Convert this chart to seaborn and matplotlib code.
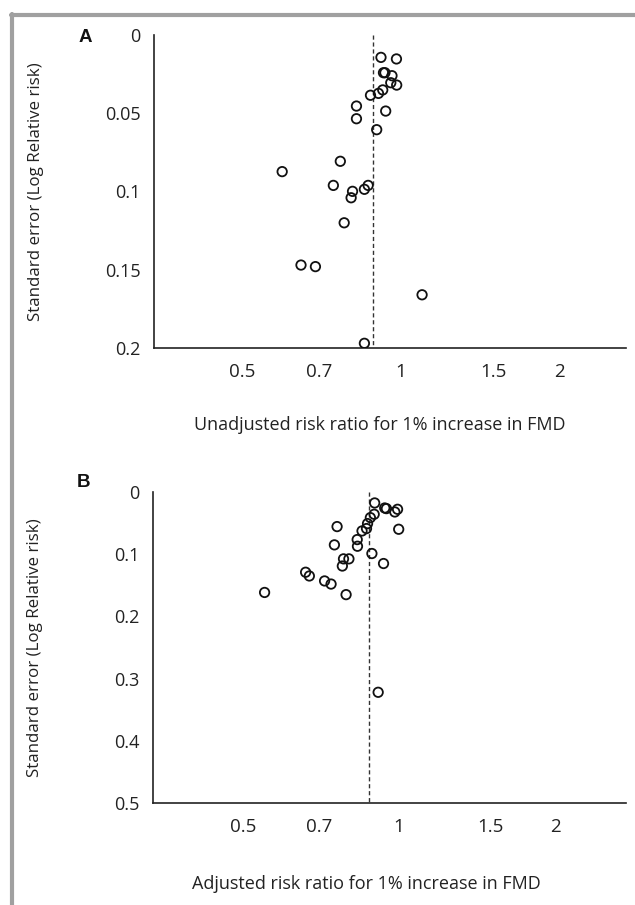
import matplotlib
matplotlib.use("Agg")
import matplotlib.pyplot as plt
from matplotlib.lines import Line2D
import seaborn as sns
import pandas as pd

# ---- data ----
rr_unadjusted = [0.916, 0.980, 0.926, 0.932, 0.961, 0.956, 0.981, 0.923, 0.906, 0.875,
                 0.823, 0.935, 0.823, 0.899, 0.767, 0.595, 0.744, 0.866, 0.852, 0.809,
                 0.804, 0.780, 0.646, 0.688, 1.096, 0.852]
se_unadjusted = [0.0143, 0.0153, 0.0241, 0.0241, 0.0260, 0.0305, 0.0320, 0.0351, 0.0373, 0.0385,
                 0.0454, 0.0486, 0.0535, 0.0605, 0.0807, 0.0873, 0.0961, 0.0961, 0.0986, 0.0999,
                 0.1040, 0.1200, 0.1470, 0.1480, 0.1660, 0.1970]
rr_adjusted = [0.897, 0.938, 0.945, 0.993, 0.981, 0.895, 0.880, 0.869, 0.865, 0.848,
               0.998, 0.759, 0.830, 0.831, 0.750, 0.886, 0.781, 0.800, 0.777, 0.933,
               0.660, 0.671, 0.718, 0.739, 0.790, 0.550, 0.911]
se_adjusted = [0.0176, 0.0257, 0.0267, 0.0278, 0.0321, 0.0358, 0.0412, 0.0508, 0.0588, 0.0626,
               0.0599, 0.0556, 0.0765, 0.0872, 0.0850, 0.0989, 0.1075, 0.1075, 0.1190, 0.1150,
               0.1290, 0.1350, 0.1430, 0.1480, 0.1650, 0.1615, 0.3220]
pooled_unadjusted = 0.885
pooled_adjusted = 0.875

x_ticks = [0.5, 0.7, 1, 1.5, 2]
x_ticklabels = ["0.5", "0.7", "1", "1.5", "2"]
yA_ticks = [0, 0.05, 0.1, 0.15, 0.2]
yA_ticklabels = ["0", "0.05", "0.1", "0.15", "0.2"]
yB_ticks = [0, 0.1, 0.2, 0.3, 0.4, 0.5]
yB_ticklabels = ["0", "0.1", "0.2", "0.3", "0.4", "0.5"]

xlabel_A = "Unadjusted risk ratio for 1% increase in FMD"
xlabel_B = "Adjusted risk ratio for 1% increase in FMD"
ylabel = "Standard error (Log Relative risk)"

sns.set_style("white")
plt.rcParams["font.family"] = ["Open Sans", "DejaVu Sans"]

W, H = 635, 905
fig = plt.figure(figsize=(W / 100, H / 100), dpi=100)


def px_axes(left, right, top, bottom):
    return fig.add_axes([left / W, 1 - bottom / H, (right - left) / W, (bottom - top) / H])


axA = px_axes(154, 626, 35, 348)
axB = px_axes(153, 626, 492, 803)

panels = [
    (axA, rr_unadjusted, se_unadjusted, pooled_unadjusted, (0.340, 2.67), (0.2, 0),
     yA_ticks, yA_ticklabels, xlabel_A, (0.479, -0.246), "A", (85, 38)),
    (axB, rr_adjusted, se_adjusted, pooled_adjusted, (0.335, 2.74), (0.5, 0),
     yB_ticks, yB_ticklabels, xlabel_B, (0.452, -0.26), "B", (83, 482)),
]

for (ax, xs, ses, pooled, xlim, ylim, yt, ytl, xl, xlpos, letter, lpos) in panels:
    df = pd.DataFrame({"rr": xs, "se": ses})
    sns.scatterplot(data=df, x="rr", y="se", ax=ax, s=46, marker="o",
                    facecolor="none", edgecolor="#111111", linewidth=1.3, zorder=3)
    ax.set_xscale("log")
    ax.set_xlim(*xlim)
    ax.set_ylim(*ylim)
    ax.plot([pooled, pooled], [ylim[1], ylim[0]], ls=(0, (3, 2)), color="#333333",
            lw=1.0, zorder=2)
    ax.set_xticks(x_ticks)
    ax.set_xticklabels(x_ticklabels)
    ax.minorticks_off()
    ax.set_yticks(yt)
    ax.set_yticklabels(ytl)
    for side in ["top", "right"]:
        ax.spines[side].set_visible(False)
    for side in ["left", "bottom"]:
        ax.spines[side].set_color("#222222")
        ax.spines[side].set_linewidth(1.2)
    ax.tick_params(axis="x", direction="inout", length=5, width=1.1, color="#222222",
                   labelsize=13.5, pad=8, labelcolor="#222222")
    ax.tick_params(axis="y", direction="inout", length=5, width=1.1, color="#222222",
                   labelsize=13, pad=7, labelcolor="#222222")
    ax.set_xlabel(xl, fontsize=13, color="#222222", va="center")
    ax.xaxis.set_label_coords(*xlpos)
    ax.set_ylabel(ylabel, fontsize=12.2, color="#222222", va="center")
    ax.yaxis.set_label_coords(-0.25, 0.5)
    fig.text(lpos[0] / W, 1 - lpos[1] / H, letter, fontsize=13.5, fontweight="bold",
             family="Liberation Sans", ha="center", va="center", color="#111111")

# grey frame (left and top edges)
fig.add_artist(Line2D([12 / W, 12 / W], [0, 1 - 14 / H], color="#a0a0a0", lw=3,
                      transform=fig.transFigure))
fig.add_artist(Line2D([10.5 / W, 1], [1 - 15 / H, 1 - 15 / H], color="#a0a0a0", lw=3,
                      transform=fig.transFigure))

fig.savefig("out.png", dpi=100, facecolor="white")
